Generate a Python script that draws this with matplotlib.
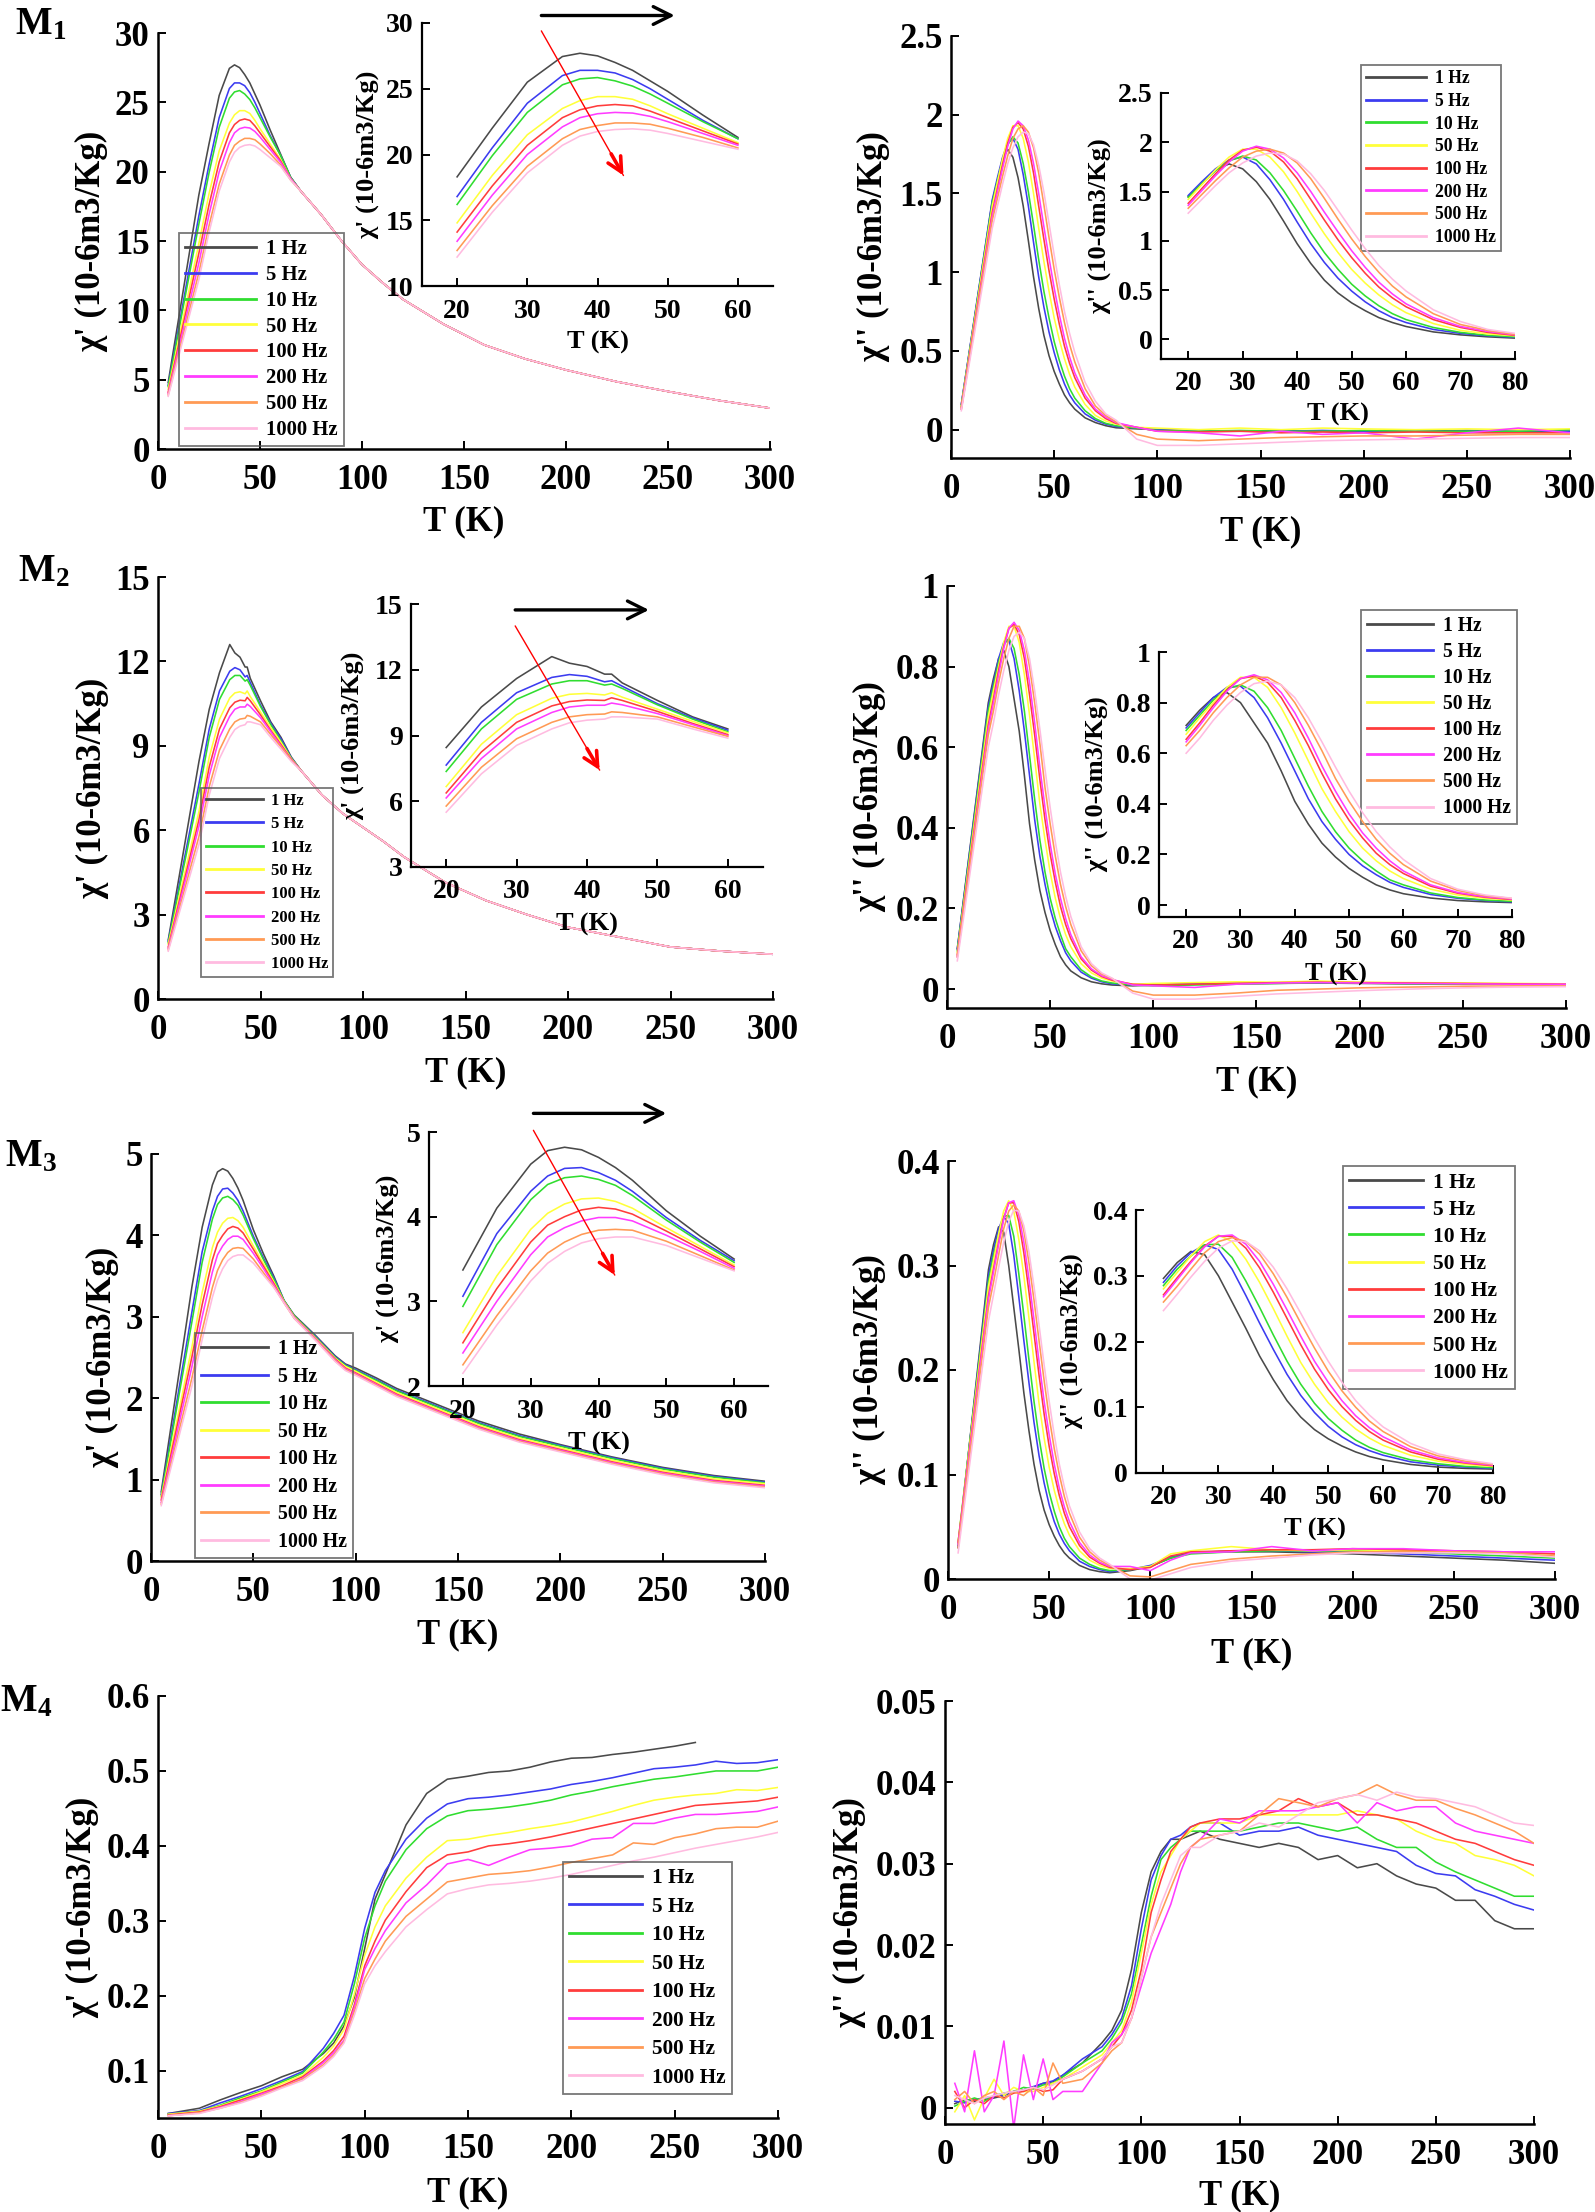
import numpy as np
import matplotlib
matplotlib.use("Agg")
import matplotlib.pyplot as plt

plt.rcParams['font.family'] = ['Liberation Serif', 'DejaVu Serif']
plt.rcParams['font.weight'] = 'bold'
plt.rcParams['axes.labelweight'] = 'bold'
plt.rcParams['mathtext.fontset'] = 'custom'
plt.rcParams['mathtext.rm'] = 'Liberation Serif:bold'
plt.rcParams['mathtext.it'] = 'Liberation Serif:italic:bold'
plt.rcParams['mathtext.bf'] = 'Liberation Serif:bold'

FREQS = ['1 Hz', '5 Hz', '10 Hz', '50 Hz', '100 Hz', '200 Hz', '500 Hz', '1000 Hz']
COLORS = ['#4a4a4a', '#3c3cf0', '#30dd30', '#ffff3a', '#ff3c3c', '#ff3cff', '#ff9a55', '#ffbbe0']

# ---------------- M1 chi' ----------------
T_M1_re = [5, 20, 25, 30, 35, 37.5, 40, 42.5, 45, 47.5, 50, 55, 60, 65,
           70, 80, 90, 100, 110, 120, 140, 160, 180, 200, 225, 250, 275, 300]
M1_re_tail = [18.6, 16.9, 15.0, 13.3, 12.0, 10.8, 9.0, 7.5, 6.5, 5.7, 4.85, 4.15, 3.5, 2.95]
M1_re = [
    [4.8, 18.3, 22.0, 25.5, 27.45, 27.7, 27.5, 27.0, 26.4, 25.6, 24.8, 23.0, 21.3, 19.6] + M1_re_tail,
    [4.6, 16.8, 20.5, 23.9, 26.0, 26.4, 26.4, 26.2, 25.7, 25.0, 24.2, 22.6, 21.2, 19.6] + M1_re_tail,
    [4.5, 16.2, 19.9, 23.2, 25.3, 25.75, 25.85, 25.6, 25.2, 24.6, 23.9, 22.5, 21.2, 19.6] + M1_re_tail,
    [4.3, 14.8, 18.4, 21.5, 23.5, 24.1, 24.4, 24.4, 24.2, 23.7, 23.1, 22.0, 20.9, 19.5] + M1_re_tail,
    [4.1, 14.1, 17.6, 20.7, 22.8, 23.4, 23.7, 23.8, 23.7, 23.3, 22.8, 21.8, 20.8, 19.5] + M1_re_tail,
    [4.0, 13.4, 16.9, 20.0, 22.1, 22.8, 23.1, 23.2, 23.15, 22.9, 22.5, 21.6, 20.7, 19.5] + M1_re_tail,
    [3.9, 12.7, 16.1, 19.1, 21.2, 21.9, 22.2, 22.4, 22.4, 22.3, 22.0, 21.3, 20.5, 19.4] + M1_re_tail,
    [3.8, 12.2, 15.6, 18.6, 20.7, 21.4, 21.75, 21.9, 21.95, 21.85, 21.6, 21.0, 20.4, 19.4] + M1_re_tail,
]

# ---------------- M1 chi'' ----------------
T_M1_im = [5, 20, 22.5, 25, 27.5, 30, 32.5, 35, 37.5, 40, 42.5, 45, 47.5, 50, 52.5, 55, 57.5, 60, 65, 70, 75, 80,
           90, 100, 120, 140, 160, 180, 200, 225, 250, 275, 300]
M1_im = [
    [0.16, 1.45, 1.58, 1.72, 1.78, 1.73, 1.60, 1.42, 1.20, 0.97, 0.77, 0.60, 0.47, 0.37, 0.29, 0.22, 0.17, 0.13, 0.075, 0.045, 0.025, 0.012,
     0.005, 0.0, -0.01, -0.01, -0.005, -0.01, -0.01, -0.01, -0.005, -0.01, -0.01],
    [0.16, 1.46, 1.60, 1.73, 1.82, 1.85, 1.78, 1.62, 1.42, 1.19, 0.97, 0.78, 0.62, 0.49, 0.38, 0.29, 0.22, 0.17, 0.10, 0.06, 0.035, 0.02,
     0.01, 0.0, -0.01, -0.01, -0.01, -0.005, -0.01, -0.01, -0.01, -0.005, -0.01],
    [0.15, 1.44, 1.58, 1.71, 1.81, 1.86, 1.82, 1.69, 1.51, 1.30, 1.08, 0.88, 0.71, 0.56, 0.44, 0.34, 0.26, 0.20, 0.12, 0.07, 0.04, 0.025,
     0.01, -0.005, -0.01, -0.005, -0.01, -0.01, -0.005, -0.01, -0.01, -0.01, 0.0],
    [0.15, 1.42, 1.57, 1.72, 1.85, 1.93, 1.93, 1.85, 1.70, 1.50, 1.28, 1.07, 0.88, 0.71, 0.57, 0.45, 0.35, 0.27, 0.16, 0.09, 0.055, 0.035,
     0.015, 0.01, 0.0, 0.01, 0.0, 0.01, 0.005, 0.0, 0.005, 0.0, 0.005],
    [0.14, 1.38, 1.53, 1.68, 1.82, 1.92, 1.95, 1.91, 1.80, 1.63, 1.42, 1.21, 1.01, 0.83, 0.67, 0.53, 0.42, 0.33, 0.20, 0.12, 0.07, 0.04,
     0.015, -0.01, -0.015, -0.01, -0.02, -0.015, -0.02, -0.015, -0.02, -0.02, -0.02],
    [0.13, 1.36, 1.51, 1.66, 1.80, 1.91, 1.96, 1.93, 1.84, 1.69, 1.50, 1.29, 1.09, 0.90, 0.73, 0.58, 0.46, 0.36, 0.22, 0.13, 0.08, 0.045,
     0.015, -0.01, -0.02, -0.04, -0.01, -0.03, -0.02, -0.06, -0.02, 0.01, -0.02],
    [0.13, 1.33, 1.47, 1.61, 1.74, 1.85, 1.91, 1.93, 1.89, 1.79, 1.63, 1.43, 1.22, 1.02, 0.84, 0.68, 0.54, 0.43, 0.26, 0.15, 0.09, 0.05,
     -0.03, -0.06, -0.07, -0.06, -0.05, -0.045, -0.04, -0.04, -0.035, -0.03, -0.03],
    [0.12, 1.28, 1.42, 1.56, 1.69, 1.79, 1.86, 1.89, 1.88, 1.81, 1.68, 1.51, 1.31, 1.11, 0.92, 0.75, 0.61, 0.49, 0.30, 0.18, 0.10, 0.06,
     -0.06, -0.1, -0.1, -0.09, -0.08, -0.07, -0.065, -0.06, -0.055, -0.05, -0.05],
]

# ---------------- M2 chi' ----------------
T_M2_re = [5, 20, 25, 30, 35, 37.5, 40, 42.5, 43.5, 45, 50, 55, 60, 65,
           70, 80, 90, 100, 110, 120, 140, 160, 180, 200, 225, 250, 275, 300]
M2_re_tail = [8.1, 7.25, 6.6, 6.1, 5.6, 5.05, 4.15, 3.5, 3.0, 2.55, 2.2, 1.85, 1.7, 1.59]
M2_re = [
    [2.1, 8.45, 10.3, 11.6, 12.6, 12.3, 12.15, 11.8, 11.8, 11.4, 10.6, 9.85, 9.3, 8.6] + M2_re_tail,
    [2.05, 7.65, 9.6, 10.95, 11.65, 11.78, 11.7, 11.45, 11.5, 11.25, 10.45, 9.8, 9.24, 8.58] + M2_re_tail,
    [2.0, 7.36, 9.3, 10.65, 11.35, 11.5, 11.5, 11.3, 11.35, 11.15, 10.4, 9.75, 9.17, 8.56] + M2_re_tail,
    [1.95, 6.67, 8.6, 9.95, 10.7, 10.88, 10.92, 10.85, 10.95, 10.75, 10.2, 9.65, 9.12, 8.54] + M2_re_tail,
    [1.85, 6.38, 8.25, 9.6, 10.35, 10.55, 10.62, 10.6, 10.72, 10.6, 10.1, 9.55, 9.04, 8.52] + M2_re_tail,
    [1.8, 6.15, 7.95, 9.3, 10.05, 10.3, 10.38, 10.38, 10.48, 10.4, 10.0, 9.5, 8.99, 8.5] + M2_re_tail,
    [1.75, 5.78, 7.55, 8.85, 9.6, 9.85, 9.95, 9.98, 10.08, 10.05, 9.85, 9.4, 8.96, 8.48] + M2_re_tail,
    [1.7, 5.5, 7.25, 8.55, 9.3, 9.58, 9.7, 9.75, 9.85, 9.85, 9.75, 9.3, 8.88, 8.45] + M2_re_tail,
]

# ---------------- M2 chi'' ----------------
T_M2_im = list(T_M1_im)
M2_im = [
    [0.10, 0.71, 0.77, 0.82, 0.84, 0.80, 0.72, 0.64, 0.53, 0.41, 0.32, 0.245, 0.19, 0.145, 0.11, 0.08, 0.06, 0.045, 0.028, 0.018, 0.013, 0.01,
     0.008, 0.01, 0.012, 0.013, 0.014, 0.015, 0.014, 0.013, 0.012, 0.012, 0.012],
    [0.10, 0.70, 0.76, 0.82, 0.86, 0.865, 0.82, 0.74, 0.64, 0.53, 0.42, 0.33, 0.26, 0.20, 0.155, 0.12, 0.09, 0.07, 0.042, 0.027, 0.018, 0.013,
     0.01, 0.012, 0.013, 0.014, 0.015, 0.016, 0.015, 0.014, 0.013, 0.012, 0.012],
    [0.095, 0.69, 0.75, 0.81, 0.855, 0.87, 0.845, 0.78, 0.69, 0.58, 0.47, 0.37, 0.29, 0.225, 0.175, 0.135, 0.10, 0.08, 0.048, 0.03, 0.02, 0.015,
     0.01, 0.008, 0.01, 0.012, 0.014, 0.016, 0.015, 0.013, 0.012, 0.012, 0.011],
    [0.09, 0.675, 0.74, 0.80, 0.86, 0.90, 0.90, 0.86, 0.78, 0.68, 0.57, 0.46, 0.37, 0.29, 0.225, 0.175, 0.135, 0.105, 0.063, 0.04, 0.027, 0.02,
     0.012, 0.014, 0.016, 0.018, 0.017, 0.02, 0.017, 0.016, 0.015, 0.014, 0.013],
    [0.085, 0.655, 0.72, 0.79, 0.85, 0.895, 0.905, 0.88, 0.82, 0.73, 0.63, 0.52, 0.42, 0.335, 0.265, 0.205, 0.16, 0.125, 0.075, 0.047, 0.031, 0.022,
     0.012, 0.01, 0.012, 0.014, 0.016, 0.017, 0.016, 0.015, 0.014, 0.013, 0.012],
    [0.08, 0.645, 0.71, 0.78, 0.845, 0.895, 0.91, 0.89, 0.84, 0.76, 0.66, 0.55, 0.45, 0.36, 0.285, 0.225, 0.175, 0.135, 0.08, 0.05, 0.033, 0.024,
     0.01, 0.008, 0.004, 0.012, 0.015, 0.016, 0.015, 0.014, 0.013, 0.012, 0.012],
    [0.08, 0.63, 0.69, 0.76, 0.82, 0.87, 0.90, 0.90, 0.87, 0.80, 0.71, 0.61, 0.50, 0.41, 0.33, 0.26, 0.205, 0.16, 0.095, 0.058, 0.037, 0.026,
     -0.005, -0.015, -0.015, -0.01, -0.003, 0.0, 0.003, 0.005, 0.007, 0.008, 0.008],
    [0.07, 0.60, 0.66, 0.73, 0.79, 0.84, 0.875, 0.885, 0.87, 0.82, 0.74, 0.645, 0.545, 0.45, 0.365, 0.29, 0.23, 0.18, 0.105, 0.063, 0.04, 0.027,
     -0.01, -0.025, -0.025, -0.018, -0.012, -0.008, -0.004, 0.0, 0.003, 0.005, 0.006],
]

# ---------------- M3 chi' ----------------
T_M3_re = [5, 20, 25, 30, 32.5, 35, 37.5, 40, 42.5, 45, 50, 55, 60,
           65, 70, 80, 90, 95, 100, 110, 120, 140, 160, 180, 200, 225, 250, 275, 300]
M3_re = [
    [0.85, 3.37, 4.1, 4.62, 4.78, 4.82, 4.79, 4.7, 4.58, 4.43, 4.07, 3.77, 3.5,
     3.20, 3.02, 2.78, 2.52, 2.42, 2.37, 2.25, 2.12, 1.92, 1.72, 1.56, 1.43, 1.28, 1.15, 1.05, 0.98],
    [0.82, 3.06, 3.8, 4.3, 4.48, 4.57, 4.58, 4.52, 4.43, 4.3, 3.99, 3.72, 3.48,
     3.20, 3.01, 2.77, 2.51, 2.41, 2.35, 2.23, 2.10, 1.90, 1.70, 1.54, 1.42, 1.27, 1.14, 1.04, 0.97],
    [0.8, 2.94, 3.67, 4.2, 4.38, 4.46, 4.48, 4.44, 4.37, 4.25, 3.96, 3.7, 3.46,
     3.20, 3.01, 2.76, 2.50, 2.40, 2.34, 2.22, 2.09, 1.89, 1.69, 1.53, 1.41, 1.26, 1.13, 1.03, 0.96],
    [0.78, 2.63, 3.3, 3.85, 4.04, 4.15, 4.21, 4.22, 4.18, 4.1, 3.87, 3.65, 3.43,
     3.19, 3.00, 2.75, 2.49, 2.39, 2.33, 2.20, 2.07, 1.87, 1.67, 1.51, 1.39, 1.24, 1.11, 1.01, 0.95],
    [0.75, 2.51, 3.15, 3.7, 3.9, 4.0, 4.08, 4.11, 4.09, 4.03, 3.83, 3.62, 3.41,
     3.18, 2.99, 2.74, 2.48, 2.37, 2.31, 2.18, 2.05, 1.85, 1.65, 1.49, 1.37, 1.22, 1.09, 0.99, 0.93],
    [0.72, 2.39, 3.0, 3.55, 3.76, 3.87, 3.95, 3.99, 3.99, 3.95, 3.78, 3.59, 3.39,
     3.18, 2.99, 2.74, 2.47, 2.36, 2.30, 2.17, 2.04, 1.84, 1.64, 1.48, 1.36, 1.21, 1.08, 0.98, 0.92],
    [0.7, 2.25, 2.83, 3.36, 3.57, 3.7, 3.79, 3.84, 3.85, 3.84, 3.71, 3.54, 3.37,
     3.17, 2.98, 2.73, 2.46, 2.35, 2.29, 2.16, 2.03, 1.83, 1.63, 1.47, 1.35, 1.20, 1.07, 0.97, 0.91],
    [0.68, 2.15, 2.72, 3.24, 3.45, 3.59, 3.69, 3.74, 3.76, 3.76, 3.66, 3.51, 3.36,
     3.17, 2.98, 2.72, 2.45, 2.34, 2.28, 2.15, 2.02, 1.82, 1.62, 1.46, 1.34, 1.19, 1.06, 0.96, 0.90],
]

# ---------------- M3 chi'' ----------------
T_M3_im = [5, 20, 22.5, 25, 27.5, 30, 32.5, 35, 37.5, 40, 42.5, 45, 47.5, 50, 52.5, 55, 57.5, 60, 65, 70, 75, 80,
           90, 100, 110, 120, 140, 160, 180, 200, 225, 250, 275, 300]
M3_im = [
    [0.03, 0.296, 0.32, 0.337, 0.332, 0.30, 0.26, 0.22, 0.178, 0.142, 0.11, 0.085, 0.066, 0.052, 0.041, 0.032, 0.025, 0.02, 0.013, 0.009, 0.007, 0.006,
     0.008, 0.012, 0.02, 0.025, 0.026, 0.026, 0.025, 0.024, 0.022, 0.02, 0.018, 0.015],
    [0.032, 0.29, 0.315, 0.335, 0.347, 0.34, 0.31, 0.27, 0.228, 0.188, 0.15, 0.118, 0.092, 0.071, 0.055, 0.043, 0.034, 0.027, 0.017, 0.012, 0.009, 0.007,
     0.009, 0.013, 0.021, 0.025, 0.027, 0.027, 0.026, 0.026, 0.024, 0.022, 0.02, 0.018],
    [0.035, 0.285, 0.31, 0.33, 0.347, 0.348, 0.328, 0.292, 0.252, 0.21, 0.17, 0.135, 0.106, 0.083, 0.065, 0.05, 0.039, 0.031, 0.02, 0.014, 0.01, 0.008,
     0.009, 0.012, 0.02, 0.024, 0.026, 0.027, 0.027, 0.027, 0.026, 0.024, 0.022, 0.02],
    [0.035, 0.28, 0.305, 0.33, 0.352, 0.362, 0.352, 0.325, 0.29, 0.25, 0.208, 0.168, 0.135, 0.107, 0.085, 0.067, 0.053, 0.042, 0.027, 0.018, 0.013, 0.01,
     0.01, 0.012, 0.024, 0.027, 0.031, 0.028, 0.027, 0.028, 0.027, 0.026, 0.025, 0.024],
    [0.035, 0.271, 0.297, 0.322, 0.345, 0.36, 0.36, 0.342, 0.312, 0.275, 0.235, 0.195, 0.158, 0.127, 0.101, 0.08, 0.063, 0.05, 0.032, 0.021, 0.015, 0.011,
     0.009, 0.011, 0.022, 0.026, 0.027, 0.028, 0.028, 0.029, 0.028, 0.027, 0.026, 0.024],
    [0.033, 0.268, 0.294, 0.32, 0.344, 0.36, 0.362, 0.348, 0.322, 0.287, 0.248, 0.208, 0.17, 0.138, 0.11, 0.087, 0.069, 0.055, 0.035, 0.023, 0.016, 0.012,
     0.012, 0.008, 0.018, 0.025, 0.026, 0.031, 0.027, 0.029, 0.029, 0.027, 0.026, 0.026],
    [0.03, 0.26, 0.284, 0.31, 0.335, 0.352, 0.358, 0.352, 0.333, 0.303, 0.267, 0.228, 0.19, 0.155, 0.125, 0.1, 0.079, 0.063, 0.04, 0.026, 0.018, 0.013,
     0.003, 0.002, 0.008, 0.014, 0.019, 0.022, 0.024, 0.026, 0.026, 0.026, 0.025, 0.022],
    [0.025, 0.247, 0.272, 0.298, 0.322, 0.342, 0.353, 0.352, 0.338, 0.313, 0.28, 0.243, 0.205, 0.17, 0.138, 0.11, 0.088, 0.07, 0.045, 0.029, 0.02, 0.014,
     0.0, -0.001, 0.005, 0.011, 0.017, 0.02, 0.023, 0.025, 0.025, 0.025, 0.024, 0.021],
]

# ---------------- M4 chi' ----------------
T_M4_re = [5, 20, 30, 40, 50, 60, 70, 80, 85, 90, 95, 100, 105, 110, 120, 130, 140, 150, 160, 170,
           180, 190, 200, 210, 220, 230, 240, 250, 260, 270, 280, 290, 300]
nan = float('nan')
M4_re = [
    [.043, .050, .061, .071, .080, .092, .102, .123, .137, .160, .198, .263, .329, .362, .428, .470, .489, .493, .498, .500,
     .505, .512, .517, .518, .522, .525, .529, .533, .538, nan, nan, nan, nan],
    [.043, .047, .057, .066, .076, .087, .099, .130, .150, .174, .226, .290, .338, .367, .409, .437, .456, .463, .465, .468,
     .472, .476, .482, .486, .491, .497, .503, .505, .508, .513, .510, .511, .515],
    [.042, .046, .054, .064, .073, .085, .097, .125, .142, .165, .216, .277, .320, .353, .395, .423, .440, .447, .449, .452,
     .456, .461, .468, .473, .479, .484, .489, .492, .496, .500, .500, .500, .505],
    [.042, .046, .053, .062, .072, .083, .094, .118, .133, .155, .202, .254, .292, .320, .357, .385, .407, .409, .414, .418,
     .423, .427, .432, .439, .446, .454, .461, .465, .468, .470, .475, .474, .478],
    [.041, .045, .052, .061, .070, .080, .092, .113, .127, .146, .188, .240, .273, .301, .339, .371, .388, .392, .400, .403,
     .407, .412, .418, .424, .430, .436, .442, .448, .454, .456, .458, .460, .465],
    [.040, .044, .051, .059, .069, .078, .090, .111, .124, .141, .184, .235, .263, .287, .324, .348, .376, .382, .374, .385,
     .395, .397, .400, .409, .411, .430, .430, .437, .442, .442, .444, .446, .452],
    [.040, .044, .050, .058, .067, .078, .089, .108, .121, .139, .179, .223, .249, .273, .306, .329, .352, .357, .362, .364,
     .367, .372, .378, .383, .388, .404, .402, .411, .416, .423, .425, .425, .433],
    [.040, .043, .050, .057, .066, .077, .087, .106, .119, .137, .174, .216, .240, .259, .292, .315, .336, .343, .348, .350,
     .353, .357, .362, .368, .374, .380, .385, .391, .397, .402, .407, .412, .418],
]

# ---------------- M4 chi'' ----------------
T_M4_im = [5, 10, 15, 20, 25, 30, 35, 40, 45, 50, 55, 60, 70, 80, 85,
           90, 95, 100, 105, 110, 115, 120, 125, 130,
           140, 150, 160, 170, 180, 190, 200, 210, 220, 230, 240, 250, 260, 270, 280, 290, 300]
M4_im = [
    [0.0005, 0.001, 0.0008, 0.001, 0.0012, 0.0015, 0.002, 0.0022, 0.0025, 0.003, 0.0032, 0.004, 0.0055, 0.008, 0.0095,
     0.012, 0.017, 0.024, 0.029, 0.0315, 0.033, 0.033, 0.0335, 0.034,
     0.033, 0.0325, 0.032, 0.0325, 0.032, 0.0305, 0.031, 0.0295, 0.030, 0.0285, 0.0275, 0.027, 0.0255, 0.0255, 0.023, 0.022, 0.022],
    [0.0008, 0.0006, 0.001, 0.0012, 0.0014, 0.0016, 0.002, 0.0022, 0.0026, 0.003, 0.0033, 0.004, 0.006, 0.0075, 0.009,
     0.011, 0.015, 0.022, 0.028, 0.031, 0.033, 0.0335, 0.0345, 0.035,
     0.035, 0.0335, 0.034, 0.034, 0.0345, 0.0335, 0.033, 0.0325, 0.032, 0.0315, 0.0298, 0.0288, 0.0285, 0.0268, 0.026, 0.025, 0.0243],
    [0.0002, 0.0008, 0.0012, 0.0008, 0.0015, 0.0018, 0.002, 0.0025, 0.0023, 0.0028, 0.003, 0.0038, 0.0055, 0.007, 0.0085,
     0.0105, 0.014, 0.02, 0.026, 0.0305, 0.032, 0.033, 0.034, 0.034,
     0.034, 0.034, 0.0345, 0.035, 0.035, 0.0345, 0.034, 0.0345, 0.033, 0.032, 0.032, 0.0302, 0.029, 0.028, 0.027, 0.026, 0.026],
    [-0.0005, 0.0015, -0.0015, 0.0012, 0.0035, 0.0015, 0.0025, 0.002, 0.002, 0.0025, 0.003, 0.0035, 0.005, 0.0065, 0.008,
     0.0095, 0.013, 0.019, 0.025, 0.029, 0.031, 0.033, 0.034, 0.035,
     0.035, 0.035, 0.036, 0.036, 0.036, 0.036, 0.036, 0.0365, 0.036, 0.0355, 0.034, 0.033, 0.0325, 0.031, 0.0305, 0.0298, 0.0285],
    [0.002, 0.0, 0.001, 0.0005, 0.0015, 0.0012, 0.0018, 0.002, 0.0025, 0.002, 0.0022, 0.0035, 0.0045, 0.006, 0.0075,
     0.009, 0.012, 0.017, 0.024, 0.028, 0.0315, 0.033, 0.0345, 0.035,
     0.0355, 0.0355, 0.036, 0.0365, 0.038, 0.037, 0.0375, 0.036, 0.036, 0.0355, 0.035, 0.034, 0.033, 0.0325, 0.0315, 0.0305, 0.0298],
    [0.003, -0.0005, 0.007, -0.0005, 0.0015, 0.0082, -0.0025, 0.0065, 0.001, 0.006, 0.001, 0.002, 0.002, 0.0055, 0.008,
     0.009, 0.011, 0.015, 0.019, 0.022, 0.025, 0.029, 0.032, 0.033,
     0.0355, 0.035, 0.0365, 0.0365, 0.0365, 0.037, 0.0375, 0.035, 0.0375, 0.0365, 0.037, 0.037, 0.035, 0.034, 0.0335, 0.033, 0.0325],
    [0.001, 0.002, 0.0005, 0.0015, 0.002, 0.001, 0.002, 0.0015, 0.0025, 0.0015, 0.0055, 0.003, 0.0035, 0.0055, 0.007,
     0.008, 0.011, 0.016, 0.021, 0.024, 0.027, 0.03, 0.032, 0.033,
     0.0335, 0.034, 0.036, 0.038, 0.0375, 0.037, 0.038, 0.0385, 0.0397, 0.0385, 0.0378, 0.0378, 0.0368, 0.036, 0.035, 0.034, 0.0325],
    [0.0015, 0.001, 0.0005, 0.0012, 0.0015, 0.0018, 0.002, 0.0022, 0.0025, 0.0022, 0.0028, 0.0035, 0.0045, 0.006, 0.0075,
     0.008, 0.011, 0.016, 0.021, 0.025, 0.028, 0.031, 0.032, 0.032,
     0.0335, 0.034, 0.035, 0.0345, 0.036, 0.0375, 0.038, 0.0385, 0.0378, 0.0388, 0.0382, 0.038, 0.0375, 0.037, 0.036, 0.035, 0.0347],
]

# ====================== drawing ======================
W, H = 1595, 2212
fig = plt.figure(figsize=(W / 100, H / 100), dpi=100)

YL_RE = "χ' (10-6m3/Kg)"
YL_IM = "χ'' (10-6m3/Kg)"


def add_ax(box):
    l, t, r, b = box
    return fig.add_axes([l / W, 1 - b / H, (r - l) / W, (b - t) / H])


def style(ax, xlim, ylim, xt, yt, fs, pad_x, pad_y, lw=1.8):
    ax.set_xlim(*xlim)
    ax.set_ylim(*ylim)
    ax.patch.set_visible(False)
    for s in ('top', 'right'):
        ax.spines[s].set_visible(False)
    for s in ('left', 'bottom'):
        ax.spines[s].set_linewidth(lw)
    ax.set_xticks(xt)
    ax.set_yticks(yt)
    ax.set_xticklabels(['%g' % v for v in xt])
    ax.set_yticklabels(['%g' % v for v in yt])
    ax.tick_params(direction='in', length=6, width=1.4, labelsize=fs)
    ax.tick_params(axis='x', pad=pad_x)
    ax.tick_params(axis='y', pad=pad_y)
    for lab in ax.get_xticklabels() + ax.get_yticklabels():
        lab.set_fontweight('bold')


def plot_series(ax, T, Y, tmin=None, tmax=None):
    T = np.asarray(T, dtype=float)
    for i, ser in enumerate(Y):
        y = np.asarray(ser, dtype=float)
        m = np.ones_like(T, dtype=bool)
        if tmin is not None:
            m &= T >= tmin
        if tmax is not None:
            m &= T <= tmax
        ax.plot(T[m], y[m], color=COLORS[i], lw=1.15, label=FREQS[i])


def legend(ax, x, y, fs, ls):
    leg = ax.legend(loc='upper left', bbox_to_anchor=(x / W, 1 - y / H), bbox_transform=fig.transFigure,
                    prop={'family': 'Liberation Serif', 'weight': 'bold', 'size': fs},
                    labelspacing=ls, handlelength=3.4, handletextpad=0.5, borderpad=0.3,
                    borderaxespad=0, fancybox=False, frameon=True)
    fr = leg.get_frame()
    fr.set_facecolor('none')
    fr.set_edgecolor('#555555')
    fr.set_linewidth(1.3)
    for ln in leg.get_lines():
        ln.set_linewidth(2.0)
    return leg


def arrows(ax, black, red):
    (bx0, by0), (bx1, by1) = black
    ax.annotate('', xy=(bx1, by1), xytext=(bx0, by0), annotation_clip=False,
                arrowprops=dict(arrowstyle='->', color='black', lw=2.4, mutation_scale=32, shrinkA=0, shrinkB=0))
    (rx0, ry0), (rx1, ry1) = red
    ax.annotate('', xy=(rx1, ry1), xytext=(rx0, ry0), annotation_clip=False,
                arrowprops=dict(arrowstyle='-', color='red', lw=1.0, shrinkA=0, shrinkB=0))
    hx = rx0 + 0.85 * (rx1 - rx0)
    hy = ry0 + 0.85 * (ry1 - ry0)
    ax.annotate('', xy=(rx1, ry1), xytext=(hx, hy), annotation_clip=False,
                arrowprops=dict(arrowstyle='->', color='red', lw=2.6, mutation_scale=26, shrinkA=0, shrinkB=0))


XT_MAIN = [0, 50, 100, 150, 200, 250, 300]
MAIN_FS = 25
INS_FS = 20
XL_FS = 25
YL_FS = 25
INS_LFS = 19
INS_YFS = 19

panels = [
    # chi' M1
    dict(box=(158, 33, 770, 449), T=T_M1_re, Y=M1_re, ylim=(0, 30), yt=[0, 5, 10, 15, 20, 25, 30], yl=YL_RE,
         ylx=-0.082, xly=-0.135, leg=(179, 233, 14.9, 0.28),
         ins=dict(box=(422, 23, 773, 286), xlim=(15, 65), ylim=(10, 30), xt=[20, 30, 40, 50, 60], yt=[10, 15, 20, 25, 30],
                  tmax=60, yl=YL_RE, ylx=-0.12, xly=-0.171),
         arr=(((32.0, 30.57), (51.0, 30.57)), ((32.0, 29.4), (43.7, 18.4)))),
    # chi'' M1
    dict(box=(951, 36, 1570, 458), T=T_M1_im, Y=M1_im, ylim=(-0.18, 2.5), yt=[0, 0.5, 1, 1.5, 2, 2.5], yl=YL_IM,
         ylx=-0.099, xly=-0.135, leg=(1361, 65, 12.7, 0.32),
         ins=dict(box=(1161, 93, 1515, 359), xlim=(15, 80), ylim=(-0.2, 2.5), xt=[20, 30, 40, 50, 60, 70, 80],
                  yt=[0, 0.5, 1, 1.5, 2, 2.5], tmax=80, yl=YL_IM, ylx=-0.138, xly=-0.165), arr=None),
    # chi' M2
    dict(box=(158, 577, 773, 999), T=T_M2_re, Y=M2_re, ylim=(0, 15), yt=[0, 3, 6, 9, 12, 15], yl=YL_RE,
         ylx=-0.08, xly=-0.135, leg=(201, 788, 12.0, 0.44),
         ins=dict(box=(411, 604, 763, 867), xlim=(15, 65), ylim=(3, 15), xt=[20, 30, 40, 50, 60], yt=[3, 6, 9, 12, 15],
                  tmax=60, yl=YL_RE, ylx=-0.13, xly=-0.175),
         arr=(((29.8, 14.73), (48.8, 14.73)), ((29.8, 14.0), (41.8, 7.42)))),
    # chi'' M2
    dict(box=(947, 586, 1566, 1008), T=T_M2_im, Y=M2_im, ylim=(-0.047, 1), yt=[0, 0.2, 0.4, 0.6, 0.8, 1], yl=YL_IM,
         ylx=-0.099, xly=-0.135, leg=(1361, 610, 14.1, 0.31),
         ins=dict(box=(1159, 652, 1512, 917), xlim=(15, 80), ylim=(-0.047, 1), xt=[20, 30, 40, 50, 60, 70, 80],
                  yt=[0, 0.2, 0.4, 0.6, 0.8, 1], tmax=80, yl=YL_IM, ylx=-0.142, xly=-0.174), arr=None),
    # chi' M3
    dict(box=(151, 1154, 765, 1561), T=T_M3_re, Y=M3_re, ylim=(0, 5), yt=[0, 1, 2, 3, 4, 5], yl=YL_RE,
         ylx=-0.052, xly=-0.14, leg=(195, 1333, 14.3, 0.38),
         ins=dict(box=(429, 1132, 768, 1386), xlim=(15, 65), ylim=(2, 5), xt=[20, 30, 40, 50, 60], yt=[2, 3, 4, 5],
                  tmax=60, yl=YL_RE, ylx=-0.086, xly=-0.18),
         arr=(((30.4, 5.22), (50.0, 5.22)), ((30.4, 5.02), (42.4, 3.31)))),
    # chi'' M3
    dict(box=(948, 1161, 1555, 1579), T=T_M3_im, Y=M3_im, ylim=(0, 0.4), yt=[0, 0.1, 0.2, 0.3, 0.4], yl=YL_IM,
         ylx=-0.102, xly=-0.139, leg=(1343, 1166, 15.5, 0.33),
         ins=dict(box=(1136, 1210, 1493, 1473), xlim=(15, 80), ylim=(0, 0.4), xt=[20, 30, 40, 50, 60, 70, 80],
                  yt=[0, 0.1, 0.2, 0.3, 0.4], tmax=80, yl=YL_IM, ylx=-0.146, xly=-0.171), arr=None),
    # chi' M4
    dict(box=(158, 1696, 778, 2118), T=T_M4_re, Y=M4_re, ylim=(0.037, 0.6), yt=[0.1, 0.2, 0.3, 0.4, 0.5, 0.6], yl=YL_RE,
         ylx=-0.095, xly=-0.137, leg=(563, 1862, 15.3, 0.40), ins=None, arr=None),
    # chi'' M4
    dict(box=(945, 1701, 1534, 2124), T=T_M4_im, Y=M4_im, ylim=(-0.002, 0.05), yt=[0, 0.01, 0.02, 0.03, 0.04, 0.05],
         yl=YL_IM, ylx=-0.134, xly=-0.13, leg=None, ins=None, arr=None),
]

for p in panels:
    ax = add_ax(p['box'])
    plot_series(ax, p['T'], p['Y'])
    style(ax, (0, 300), p['ylim'], XT_MAIN, p['yt'], MAIN_FS, 10.5, 6)
    ax.set_xlabel('T (K)', fontsize=XL_FS, fontweight='bold')
    ax.xaxis.set_label_coords(0.5, p['xly'])
    ax.set_ylabel(p['yl'], fontsize=YL_FS, fontweight='bold')
    ax.yaxis.set_label_coords(p['ylx'], 0.5)
    if p['leg'] is not None:
        lx, ly, fs, ls = p['leg']
        legend(ax, lx, ly, fs, ls)
    if p['ins'] is not None:
        d = p['ins']
        ia = add_ax(d['box'])
        plot_series(ia, p['T'], p['Y'], tmin=20, tmax=d['tmax'])
        style(ia, d['xlim'], d['ylim'], d['xt'], d['yt'], INS_FS, 9, 6, lw=1.6)
        ia.set_xlabel('T (K)', fontsize=INS_LFS, fontweight='bold')
        ia.xaxis.set_label_coords(0.5, d['xly'])
        ia.set_ylabel(d['yl'], fontsize=INS_YFS, fontweight='bold')
        ia.yaxis.set_label_coords(d['ylx'], 0.5)
        if p['arr'] is not None:
            arrows(ia, p['arr'][0], p['arr'][1])

# panel tags
for txt, (x, y) in zip(['M$_1$', 'M$_2$', 'M$_3$', 'M$_4$'], [(15, 34), (18, 581), (5, 1166), (0, 1711)]):
    fig.text(x / W, 1 - y / H, txt, fontsize=28, fontweight='bold', ha='left', va='baseline')

fig.savefig('out.png', dpi=100)
